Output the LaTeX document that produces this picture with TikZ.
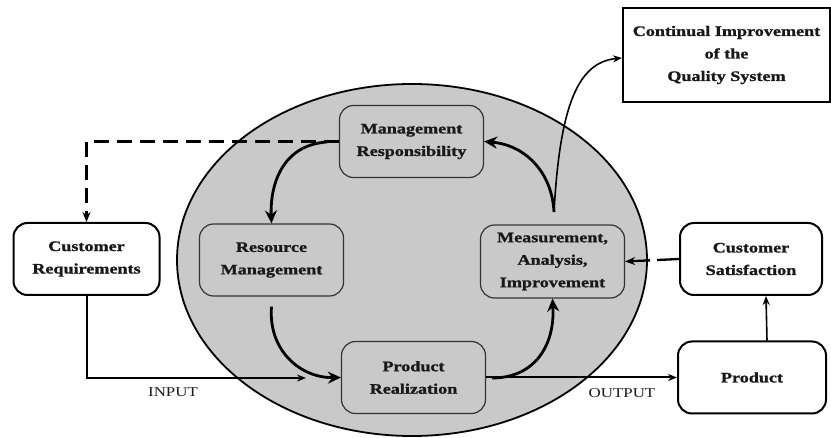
\documentclass[tikz,border=0pt]{standalone}
\usepackage{fontspec}
\newfontfamily\dfont[FakeStretch=1.25, BoldFeatures={FakeBold=1.2}]{Liberation Serif}
\usetikzlibrary{arrows.meta,shapes.geometric}
\definecolor{cyclegray}{gray}{0.79}
\begin{document}
\begin{tikzpicture}[x=1pt,y=-1pt,
  every node/.style={font=\dfont\bfseries\fontsize{14.5}{22.5}\selectfont, align=center, text=black!90},
  outerbox/.style={draw, line width=2pt, fill=white, rounded corners=14pt, minimum width=146pt, minimum height=72pt},
  innerbox/.style={draw=black!80, line width=1.2pt, fill=cyclegray, rounded corners=14pt, minimum width=144pt, minimum height=72pt},
  flowarrow/.style={line width=2.8pt, -{Stealth[length=13pt,width=12pt]}},
  thinarrow/.style={line width=1.6pt, -{Stealth[length=9pt,width=7pt]}},
  feedback/.style={line width=2.3pt, dash pattern=on 15pt off 8pt, -{Stealth[length=10pt,width=8pt]}},
  flowlabel/.style={font=\dfont\fontsize{13.5}{16}\selectfont}
]
\useasboundingbox (0,0) rectangle (831,438);

% the shaded process cycle
\node[ellipse, draw, line width=1.8pt, fill=cyclegray, minimum width=470pt, minimum height=352pt, inner sep=0pt] (cycle) at (412,260) {};

% boxes inside the cycle
\node[innerbox] (mr) at (411.5,141.5) {Management\\Responsibility};
\node[innerbox] (rm) at (271.5,260) {Resource\\Management};
\node[innerbox, minimum height=73pt] (mai) at (552.5,261.5) {Measurement,\\Analysis,\\Improvement};
\node[innerbox] (pr) at (413.5,377.5) {Product\\Realization};

% boxes outside the cycle
\node[outerbox] (cr) at (86.5,259) {Customer\\Requirements};
\node[outerbox, minimum width=142pt] (cs) at (751,259) {Customer\\Satisfaction};
\node[outerbox, minimum width=148pt] (pd) at (752,377.5) {Product};
\node[draw, line width=2pt, fill=white, minimum width=207pt, minimum height=94pt] (ci) at (726.5,55) {Continual Improvement\\of the\\Quality System};

% free ends and branch points
\coordinate (mrleft) at (327,142);
\coordinate (fork) at (554,212);
\coordinate (inend) at (306,378);
\coordinate (prout) at (492,378);

% feedback from management to customer requirements
\draw[feedback] (mr.west) -| (cr.north);

% the improvement cycle
\draw[flowarrow] (mrleft) .. controls (282,145) and (270,185) .. (rm.north);
\draw[flowarrow] ([yshift=-10pt]rm.south) .. controls (268,350) and (300,378) .. (pr.west);
\draw[flowarrow] (prout) .. controls (535,378) and (555,345) .. (mai.south);
\draw[flowarrow] (fork) .. controls (552,172) and (525,145) .. (mr.east);

% branch to continual improvement
\draw[thinarrow] (fork) .. controls (560,105) and (578,62) .. (ci.west |- 0,58);

% input and output
\draw[thinarrow, line width=2pt] (cr.south) |- (inend);
\draw[thinarrow, line width=2pt] (pr.east) -- (pd.west);
\draw[thinarrow] ([xshift=15pt]pd.north) -- ([xshift=15pt]cs.south);
\draw[feedback, dash pattern=on 22pt off 7pt] (cs.west) -- (mai.east);

\node[flowlabel] (inlabel) at (173,392) {INPUT};
\node[flowlabel] (outlabel) at (622,393) {OUTPUT};
\end{tikzpicture}
\end{document}
